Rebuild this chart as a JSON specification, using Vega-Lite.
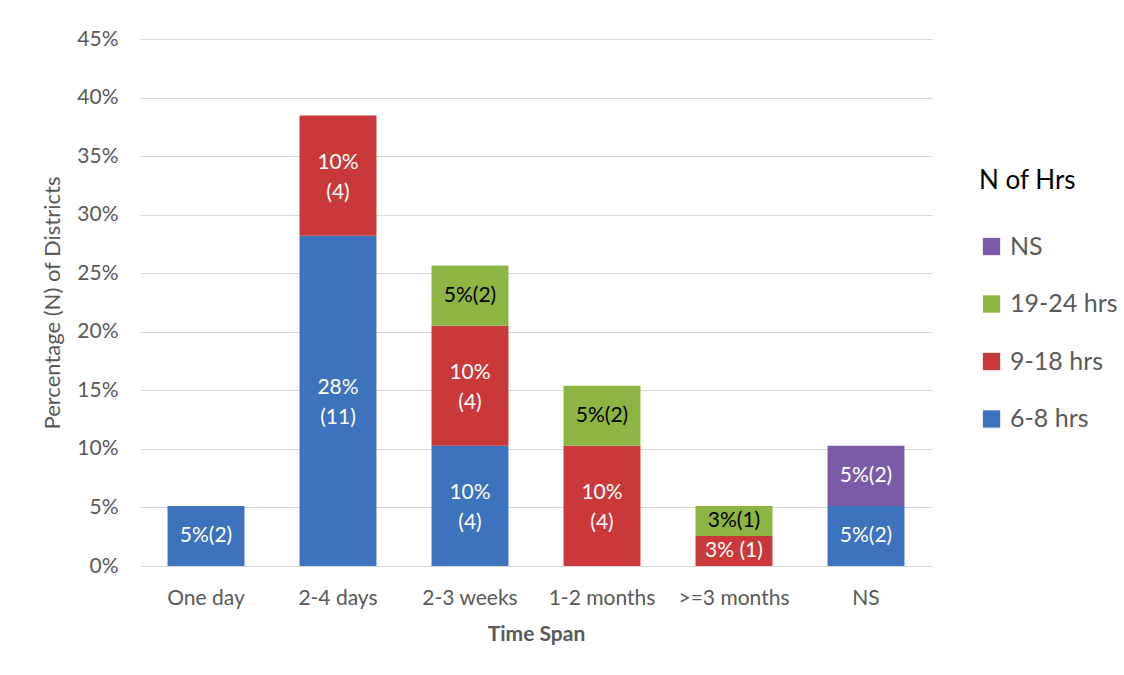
{
  "$schema": "https://vega.github.io/schema/vega-lite/v6.json",
  "width": 792,
  "height": 527,
  "autosize": {"type": "none"},
  "padding": {"left": 140, "top": 39, "right": 192, "bottom": 109},
  "background": "white",
  "config": {"font": "Lato", "view": {"stroke": null}},
  "data": {
    "values": [
      {"span": "One day", "hrs": "6-8 hrs", "level": 1, "pct": 5.13, "label": "5%(2)"},
      {"span": "2-4 days", "hrs": "6-8 hrs", "level": 1, "pct": 28.21, "label": "28%\n(11)"},
      {"span": "2-4 days", "hrs": "9-18 hrs", "level": 2, "pct": 10.26, "label": "10%\n(4)"},
      {"span": "2-3 weeks", "hrs": "6-8 hrs", "level": 1, "pct": 10.26, "label": "10%\n(4)"},
      {"span": "2-3 weeks", "hrs": "9-18 hrs", "level": 2, "pct": 10.26, "label": "10%\n(4)"},
      {"span": "2-3 weeks", "hrs": "19-24 hrs", "level": 3, "pct": 5.13, "label": "5%(2)"},
      {"span": "1-2 months", "hrs": "9-18 hrs", "level": 2, "pct": 10.26, "label": "10%\n(4)"},
      {"span": "1-2 months", "hrs": "19-24 hrs", "level": 3, "pct": 5.13, "label": "5%(2)"},
      {"span": ">=3 months", "hrs": "9-18 hrs", "level": 2, "pct": 2.56, "label": "3% (1)"},
      {"span": ">=3 months", "hrs": "19-24 hrs", "level": 3, "pct": 2.56, "label": "3%(1)"},
      {"span": "NS", "hrs": "6-8 hrs", "level": 1, "pct": 5.13, "label": "5%(2)"},
      {"span": "NS", "hrs": "NS", "level": 4, "pct": 5.13, "label": "5%(2)"}
    ]
  },
  "encoding": {
    "x": {
      "field": "span",
      "type": "nominal",
      "sort": ["One day", "2-4 days", "2-3 weeks", "1-2 months", ">=3 months", "NS"],
      "scale": {"paddingInner": 0.417, "paddingOuter": 0.2085},
      "axis": {
        "title": "Time Span",
        "labelAngle": 0,
        "domain": false,
        "ticks": false,
        "labelPadding": 21,
        "labelFontSize": 21,
        "labelColor": "#595959",
        "titleFontSize": 21,
        "titleFontWeight": "bold",
        "titleColor": "#595959",
        "titlePadding": 15
      }
    }
  },
  "layer": [
    {
      "mark": {"type": "bar"},
      "encoding": {
        "y": {
          "field": "pct",
          "type": "quantitative",
          "stack": "zero",
          "scale": {"domain": [0, 45]},
          "axis": {
            "title": "Percentage (N) of Districts",
            "values": [0, 5, 10, 15, 20, 25, 30, 35, 40, 45],
            "labelExpr": "datum.value + '%'",
            "domain": false,
            "ticks": false,
            "labelPadding": 22,
            "labelFontSize": 21,
            "labelColor": "#595959",
            "titleFontSize": 22,
            "titleFontWeight": "normal",
            "titleColor": "#595959",
            "titlePadding": 12,
            "gridColor": "#d9d9d9"
          }
        },
        "color": {
          "field": "hrs",
          "type": "nominal",
          "scale": {
            "domain": ["NS", "19-24 hrs", "9-18 hrs", "6-8 hrs"],
            "range": ["#7B5AA6", "#8DB543", "#C9393A", "#3D72BD"]
          },
          "legend": {
            "orient": "none",
            "direction": "vertical",
            "legendX": 839,
            "legendY": 129,
            "title": "N of Hrs",
            "titleFontSize": 26,
            "titleFontWeight": "normal",
            "titleColor": "#000000",
            "titlePadding": 40,
            "labelFontSize": 25,
            "labelColor": "#595959",
            "symbolType": "square",
            "symbolSize": 300,
            "symbolStrokeWidth": 0,
            "rowPadding": 31.5,
            "labelOffset": 6
          }
        },
        "order": {"field": "level", "type": "quantitative"}
      }
    },
    {
      "transform": [
        {"stack": "pct", "groupby": ["span"], "sort": [{"field": "level"}], "as": ["p0", "p1"]},
        {"calculate": "(datum.p0 + datum.p1) / 2", "as": "mid"},
        {"filter": "indexof(datum.label, '\\n') < 0"}
      ],
      "mark": {"type": "text", "fontSize": 21},
      "encoding": {
        "y": {"field": "mid", "type": "quantitative"},
        "text": {"field": "label"},
        "color": {
          "condition": {"test": "datum.hrs === '19-24 hrs'", "value": "#000000"},
          "value": "#ffffff"
        }
      }
    },
    {
      "transform": [
        {"stack": "pct", "groupby": ["span"], "sort": [{"field": "level"}], "as": ["p0", "p1"]},
        {"calculate": "(datum.p0 + datum.p1) / 2", "as": "mid"},
        {"filter": "indexof(datum.label, '\\n') >= 0"}
      ],
      "mark": {"type": "text", "lineBreak": "\n", "fontSize": 21, "lineHeight": 30, "dy": -13},
      "encoding": {
        "y": {"field": "mid", "type": "quantitative"},
        "text": {"field": "label"},
        "color": {"value": "#ffffff"}
      }
    }
  ]
}
